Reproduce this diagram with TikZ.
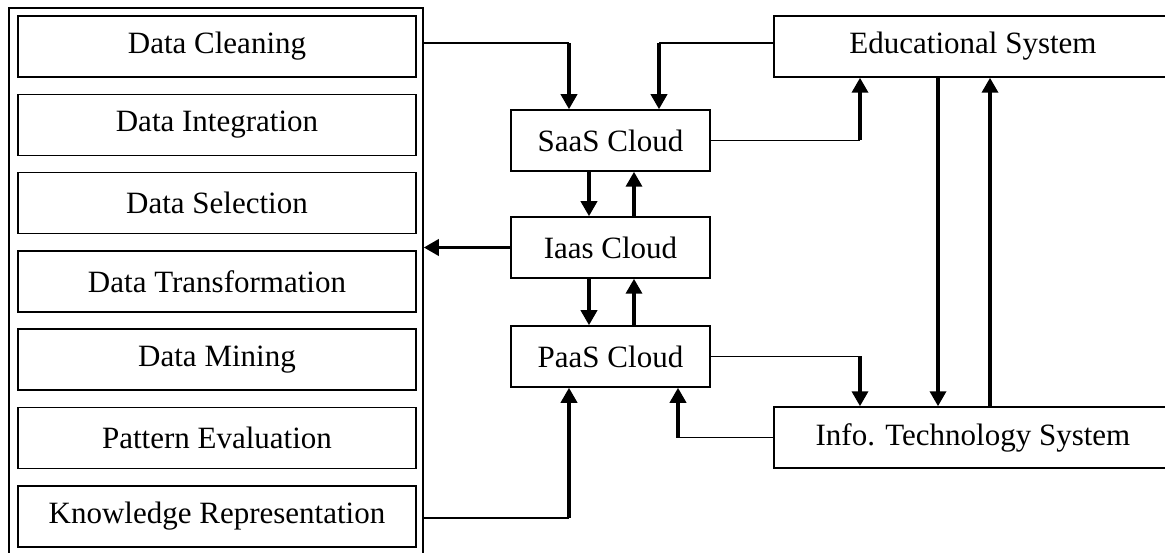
\documentclass[tikz,border=0pt]{standalone}
\usepackage{fontspec}
\setmainfont{Liberation Serif}
\usetikzlibrary{arrows.meta}
\begin{document}
\begin{tikzpicture}[x=1pt,y=-1pt,
  txt/.style={font=\fontsize{31}{36}\selectfont},
  stagebox/.style={draw,line width=1.5pt,minimum width=398pt,minimum height=61pt,inner sep=0pt,txt},
  cloudbox/.style={draw,line width=1.5pt,minimum width=199pt,minimum height=61pt,inner sep=0pt,txt},
  thinline/.style={line width=1.5pt},
  thickarrow/.style={line width=3.5pt,-{Triangle[width=16pt,length=15pt]}}]
\useasboundingbox (0,0) rectangle (1165,553);
% outer frame
\node[draw,line width=1.5pt,minimum width=414pt,minimum height=548pt,inner sep=0pt] (outer) at (216,282) {};
% stages
\node[stagebox] (c1) at (217,46.5) {Data Cleaning};
\node[stagebox] (c2) at (217,124.8) {Data Integration};
\node[stagebox] (c3) at (217,203.1) {Data Selection};
\node[stagebox] (c4) at (217,281.4) {Data Transformation};
\node[stagebox] (c5) at (217,359.7) {Data Mining};
\node[stagebox] (c6) at (217,438) {Pattern Evaluation};
\node[stagebox] (c7) at (217,516.3) {Knowledge Representation};
% clouds
\node[cloudbox] (saas) at (610.5,140.5) {SaaS Cloud};
\node[cloudbox] (iaas) at (610.5,247.5) {Iaas Cloud};
\node[cloudbox] (paas) at (610.5,356.5) {PaaS Cloud};
% systems
\node[stagebox] (edu) at (973,46.5) {Educational System};
\node[stagebox] (info) at (973,437.5) {Info. Technology System};
% bends
\coordinate (k1) at (569,43);
\coordinate (k2) at (659,43);
\coordinate (k3) at (860,140.5);
\coordinate (k11) at (860,356.5);
\coordinate (k12) at (678,437.5);
\coordinate (k13) at (569,518);
% arrows
\draw[thinline] (outer.east |- k1) -- (k1);
\draw[thickarrow] (k1) -- (k1 |- saas.north);
\draw[thinline] (edu.west |- k2) -- (k2);
\draw[thickarrow] (k2) -- (k2 |- saas.north);
\draw[thinline] (saas.east) -- (k3);
\draw[thickarrow] (k3) -- (k3 |- edu.south);
\draw[thickarrow] (edu.south -| 938,0) -- (info.north -| 938,0);
\draw[thickarrow] (info.north -| 990,0) -- (edu.south -| 990,0);
\draw[thickarrow] (saas.south -| 589,0) -- (iaas.north -| 589,0);
\draw[thickarrow] (iaas.north -| 634,0) -- (saas.south -| 634,0);
\draw[thickarrow] (iaas.west) -- (outer.east |- iaas.west);
\draw[thickarrow] (iaas.south -| 589,0) -- (paas.north -| 589,0);
\draw[thickarrow] (paas.north -| 634,0) -- (iaas.south -| 634,0);
\draw[thinline] (paas.east) -- (k11);
\draw[thickarrow] (k11) -- (k11 |- info.north);
\draw[thinline] (info.west) -- (k12);
\draw[thickarrow] (k12) -- (k12 |- paas.south);
\draw[thinline] (outer.east |- k13) -- (k13);
\draw[thickarrow] (k13) -- (k13 |- paas.south);
\end{tikzpicture}
\end{document}
